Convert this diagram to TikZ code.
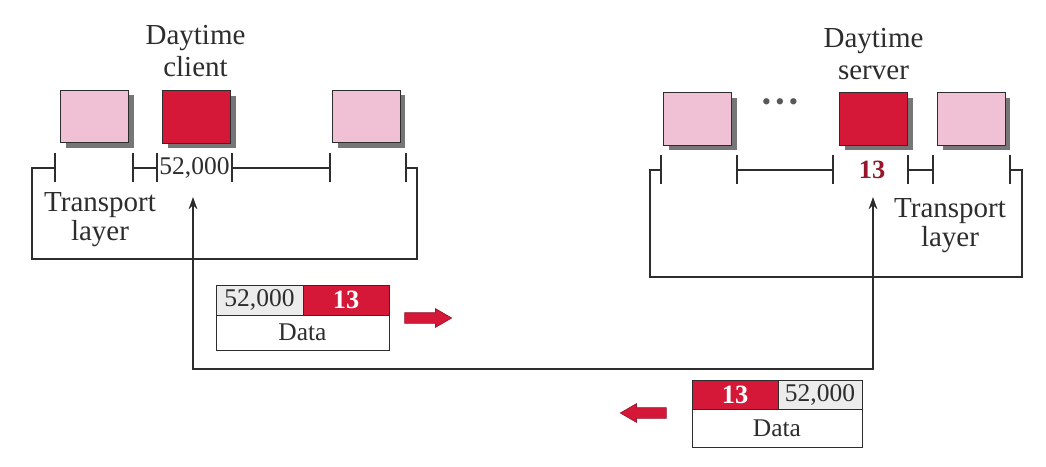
\documentclass[tikz,border=0pt]{standalone}
\usepackage{fontspec}
\setmainfont{Liberation Serif}
\usetikzlibrary{arrows.meta,shapes.arrows,shadows}

\definecolor{portpink}{RGB}{240,192,212}
\definecolor{portred}{RGB}{214,24,56}
\definecolor{portdark}{RGB}{150,22,44}
\definecolor{shadowgray}{RGB}{118,118,118}
\definecolor{cellgray}{RGB}{236,236,236}
\definecolor{inkgray}{RGB}{45,45,45}

\begin{document}
\begin{tikzpicture}[x=0.02cm, y=0.02cm]
	\tikzstyle{every node}+=[inner sep=0pt, text=inkgray]
	\tikzstyle{proc}=[draw=inkgray, line width=0.5pt, minimum width=1.36cm, minimum height=1.05cm,
		drop shadow={shadow xshift=0.11cm, shadow yshift=-0.1cm, fill=shadowgray, opacity=1}]
	\tikzstyle{idle}=[proc, fill=portpink]
	\tikzstyle{busy}=[proc, fill=portred]
	\tikzstyle{label}=[align=center, font=\fontsize{16.5}{18.5}\selectfont]
	\tikzstyle{tlabel}=[align=center, font=\fontsize{16.5}{16.5}\selectfont]
	\tikzstyle{tick}=[inkgray, line width=0.6pt]
	\tikzstyle{cell}=[draw=inkgray, line width=0.5pt, font=\fontsize{14.5}{14.5}\selectfont]
	\tikzstyle{graycell}=[cell, fill=cellgray, minimum height=0.6cm]
	\tikzstyle{redcell}=[cell, fill=portred, minimum height=0.6cm, text=white, font=\fontsize{15}{15}\selectfont\bfseries]
	\tikzstyle{datacell}=[cell, fill=white]
	\tikzstyle{move}=[single arrow, draw=portdark, fill=portred, minimum width=0.36cm, inner ysep=0.1cm,
		single arrow head extend=0.08cm, single arrow tip angle=60]
	\tikzstyle{conn}=[inkgray, line width=0.8pt, {Stealth[length=7pt,width=5pt]}-{Stealth[length=7pt,width=5pt]}]
	\useasboundingbox (0,0) rectangle (1046,-467);
	% client side
	\node[label] (client) at (195.5,-51) {Daytime\\client};
	\node[idle] (c1) at (94.5,-116.5) {};
	\node[busy] (c2) at (196.5,-117) {};
	\node[idle] (c3) at (366,-116.5) {};
	\node[font=\fontsize{14.5}{14.5}\selectfont] (cport) at (194.5,-168) {52,000};
	\draw [tick] (55,-153) -- (55,-182);
	\draw [tick] (133,-153) -- (133,-182);
	\draw [tick] (157,-153) -- (157,-182);
	\draw [tick] (232,-153) -- (232,-182);
	\draw [tick] (330,-153) -- (330,-182);
	\draw [tick] (406,-153) -- (406,-182);
	\draw [tick] (133,-168) -- (157,-168);
	\draw [tick] (232,-168) -- (330,-168);
	\draw [tick] (55,-168) -- (32,-168) -- (32,-259) -- (417,-259) -- (417,-168) -- (406,-168);
	\node[tlabel] (ctl) at (100,-220) {Transport\\layer};
	% server side
	\node[label] (server) at (873.5,-54) {Daytime\\server};
	\node[idle] (s1) at (697.5,-119) {};
	\node[font=\fontsize{15}{15}\selectfont, text=inkgray!80] (dots) at (780,-105) {\textbullet\,\textbullet\,\textbullet};
	\node[busy] (s2) at (873.5,-119) {};
	\node[idle] (s3) at (971,-119) {};
	\node[font=\fontsize{15}{15}\selectfont\bfseries, text=portdark] (sport) at (872,-170) {13};
	\draw [tick] (661,-155) -- (661,-184);
	\draw [tick] (737,-155) -- (737,-184);
	\draw [tick] (833,-155) -- (833,-184);
	\draw [tick] (908,-155) -- (908,-184);
	\draw [tick] (933,-155) -- (933,-184);
	\draw [tick] (1010,-155) -- (1010,-184);
	\draw [tick] (737,-170) -- (833,-170);
	\draw [tick] (908,-170) -- (933,-170);
	\draw [tick] (661,-170) -- (650,-170) -- (650,-277) -- (1022,-277) -- (1022,-170) -- (1010,-170);
	\node[tlabel] (stl) at (950,-226) {Transport\\layer};
	% path between the two ports
	\coordinate (cin) at (193,-197);
	\coordinate (sin) at (873,-197);
	\coordinate (low) at (0,-369);
	\draw [conn] (cin) -- (cin |- low) -- (sin |- low) -- (sin);
	% request
	\node[graycell, minimum width=1.74cm] (qsrc) at (259.5,-300) {52,000};
	\node[redcell, minimum width=1.72cm] (qdst) at (346,-300) {13};
	\node[datacell, minimum width=3.46cm, minimum height=0.7cm] (qdata) at (302.5,-332.5) {Data};
	\node[move, minimum height=0.94cm] (qmove) at (423.5,-318) {};
	% reply
	\node[redcell, minimum width=1.72cm, minimum height=0.58cm] (rsrc) at (735,-394.5) {13};
	\node[graycell, minimum width=1.68cm, minimum height=0.58cm] (rdst) at (820,-394.5) {52,000};
	\node[datacell, minimum width=3.4cm, minimum height=0.76cm] (rdata) at (777,-428) {Data};
	\node[move, minimum height=0.92cm, shape border rotate=180] (rmove) at (648,-413) {};
\end{tikzpicture}
\end{document}
